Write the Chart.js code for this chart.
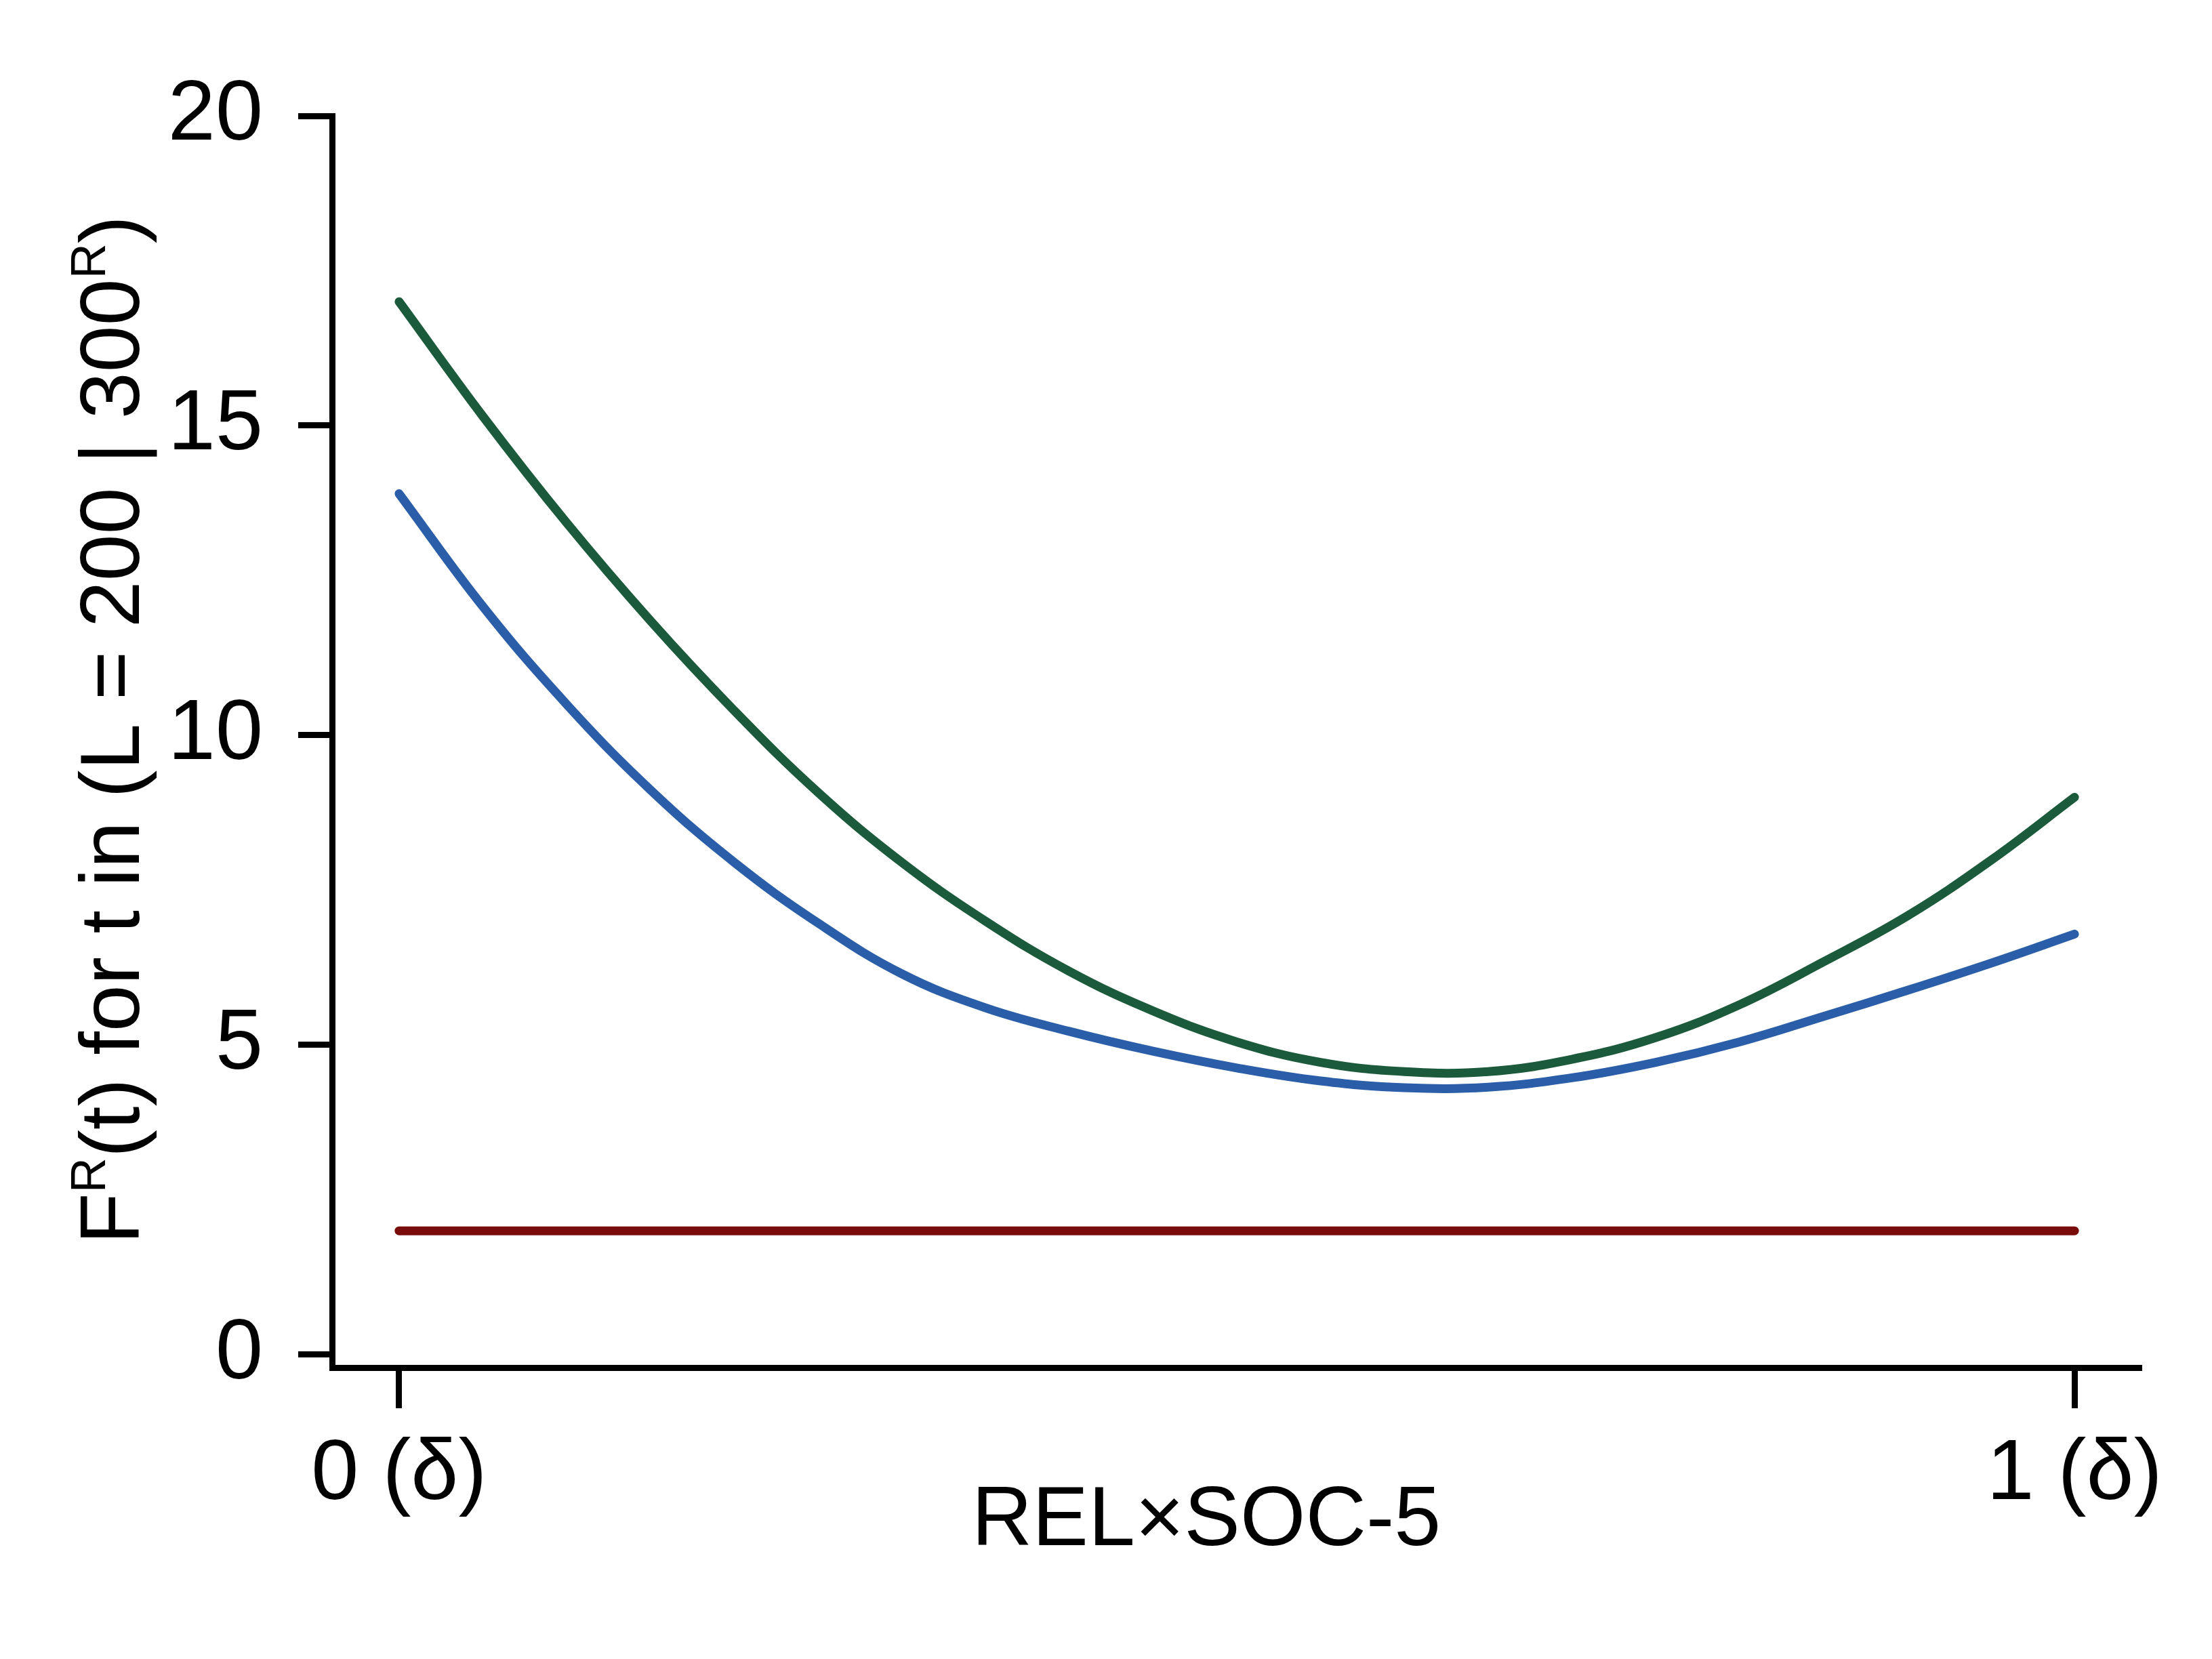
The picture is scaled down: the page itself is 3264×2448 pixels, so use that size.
<!DOCTYPE html>
<html>
<head>
<meta charset="utf-8">
<script src="https://cdn.jsdelivr.net/npm/chart.js@4/dist/chart.umd.min.js"></script>
<style>
  html, body { margin: 0; padding: 0; background: #ffffff; }
  #c { display: block; }
</style>
</head>
<body>
<canvas id="c" width="3264" height="2448"></canvas>
<script>
// ---- data ----
const tValues = [0, 0.05, 0.1, 0.15, 0.2, 0.25, 0.3, 0.35, 0.4, 0.45, 0.5, 0.55, 0.6, 0.65, 0.7, 0.75, 0.8, 0.85, 0.9, 0.95, 1.0];
const greenValues = [17.0, 15.15, 13.43, 11.85, 10.4, 9.08, 7.95, 7.0, 6.19, 5.55, 5.05, 4.72, 4.57, 4.57, 4.77, 5.12, 5.65, 6.34, 7.08, 7.98, 9.0];
const blueValues = [13.9, 12.08, 10.5, 9.12, 7.95, 6.97, 6.15, 5.6, 5.22, 4.9, 4.63, 4.42, 4.31, 4.32, 4.47, 4.72, 5.05, 5.46, 5.88, 6.32, 6.79];
const redT = [0, 1];
const redValues = [2.0, 2.0];
const xTickValues = [0, 1];
const xTickLabels = ['0 (δ)', '1 (δ)'];
const yTickValues = [0, 5, 10, 15, 20];
const xTitle = 'REL×SOC-5';
const yTitleParts = [
  { text: 'F', sup: false },
  { text: 'R', sup: true },
  { text: '(t) for t in (L = 200 | 300', sup: false },
  { text: 'R', sup: true },
  { text: ')', sup: false }
];

const FONT = '"Liberation Sans", Arial, Helvetica, sans-serif';
const toPoints = (xs, ys) => xs.map((x, i) => ({ x: x, y: ys[i] }));

const titlePlugin = {
  id: 'titles',
  afterDraw(chart) {
    const ctx = chart.ctx;
    ctx.save();
    ctx.fillStyle = '#000';
    // x title
    ctx.font = '124px ' + FONT;
    ctx.textAlign = 'center';
    ctx.textBaseline = 'alphabetic';
    ctx.fillText(xTitle, 1780, 2280);
    // y title (rotated, with superscripts)
    const mainFont = '124px ' + FONT;
    const supFont = '72px ' + FONT;
    let total = 0;
    yTitleParts.forEach(p => {
      ctx.font = p.sup ? supFont : mainFont;
      total += ctx.measureText(p.text).width;
    });
    ctx.translate(205, 1077);
    ctx.rotate(-Math.PI / 2);
    ctx.textAlign = 'left';
    let u = -total / 2;
    yTitleParts.forEach(p => {
      ctx.font = p.sup ? supFont : mainFont;
      ctx.fillText(p.text, u, p.sup ? -50 : 0);
      u += ctx.measureText(p.text).width;
    });
    ctx.restore();
  }
};

const bgPlugin = {
  id: 'bg',
  beforeDraw(chart) {
    const ctx = chart.ctx;
    ctx.save();
    ctx.fillStyle = '#ffffff';
    ctx.fillRect(0, 0, chart.width, chart.height);
    ctx.restore();
  }
};

new Chart(document.getElementById('c'), {
  type: 'line',
  data: {
    datasets: [
      {
        data: toPoints(tValues, greenValues),
        borderColor: '#1b5a3b',
        borderWidth: 13,
        pointRadius: 0,
        tension: 0.4,
        borderCapStyle: 'round',
        borderJoinStyle: 'round',
        fill: false
      },
      {
        data: toPoints(tValues, blueValues),
        borderColor: '#2b5ea8',
        borderWidth: 13,
        pointRadius: 0,
        tension: 0.4,
        borderCapStyle: 'round',
        borderJoinStyle: 'round',
        fill: false
      },
      {
        data: toPoints(redT, redValues),
        borderColor: '#7a0b0b',
        borderWidth: 13,
        pointRadius: 0,
        borderCapStyle: 'round',
        fill: false
      }
    ]
  },
  options: {
    responsive: false,
    devicePixelRatio: 1,
    animation: false,
    layout: { padding: { top: 171, right: 104, bottom: 0, left: 0 } },
    plugins: { legend: { display: false }, tooltip: { enabled: false } },
    scales: {
      x: {
        type: 'linear',
        min: -0.04,
        max: 1.04,
        afterBuildTicks: s => { s.ticks = xTickValues.map(v => ({ value: v })); },
        afterFit: s => { s.height = 430; },
        ticks: {
          autoSkip: false,
          maxRotation: 0,
          padding: 24,
          color: '#000',
          font: { family: FONT, size: 126 },
          callback: (v, i) => xTickLabels[i]
        },
        grid: { drawOnChartArea: false, drawTicks: true, tickLength: 60, tickWidth: 9, tickColor: '#000' },
        border: { display: true, color: '#000', width: 9 }
      },
      y: {
        type: 'linear',
        min: -0.208,
        max: 20,
        afterBuildTicks: s => { s.ticks = yTickValues.map(v => ({ value: v })); },
        afterFit: s => { s.width = 490; },
        ticks: {
          padding: 52,
          color: '#000',
          font: { family: FONT, size: 126 },
          callback: v => String(v)
        },
        grid: { drawOnChartArea: false, drawTicks: true, tickLength: 50, tickWidth: 9, tickColor: '#000' },
        border: { display: true, color: '#000', width: 9 }
      }
    }
  },
  plugins: [bgPlugin, titlePlugin]
});
</script>
</body>
</html>
